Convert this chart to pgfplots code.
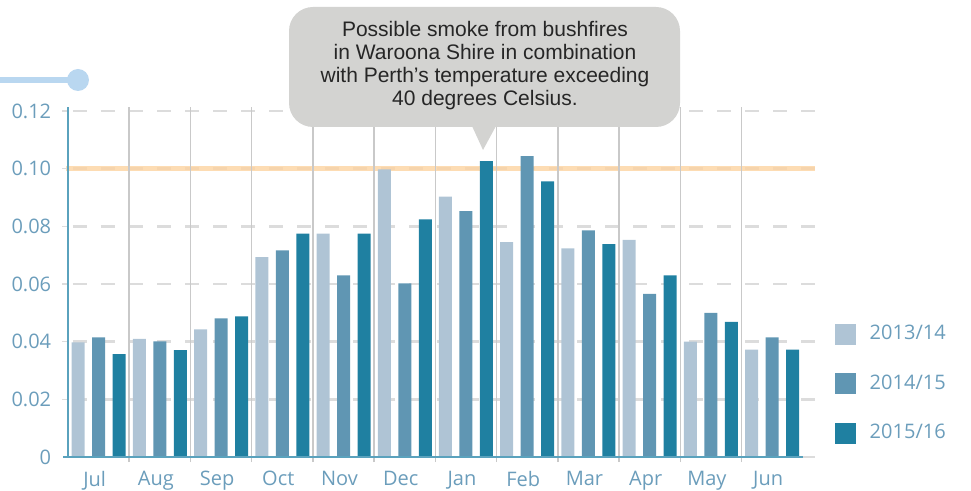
\documentclass[border=0pt]{standalone}
\usepackage{pgfplots}
\pgfplotsset{compat=1.18}
\usepackage{pgfplotstable}
\usepackage{fontspec}
\setmainfont{Open Sans}
\newfontfamily\calloutfont{Liberation Sans}
\definecolor{cA}{HTML}{AFC4D5}
\definecolor{cB}{HTML}{6096B3}
\definecolor{cC}{HTML}{1F80A1}
\definecolor{tickc}{HTML}{6B9DBB}
\definecolor{axc}{HTML}{5AA2BD}
\definecolor{gridc}{HTML}{DCDCDC}
\definecolor{vgrid}{HTML}{C9C9C9}
\definecolor{orangeline}{HTML}{FDD3A0}
\definecolor{deco}{HTML}{B9D7F0}
\definecolor{bubble}{HTML}{D3D3D1}

\pgfplotstableread{
x a b c
0.5 0.0398 0.0415 0.0357
1.5 0.0410 0.0401 0.0371
2.5 0.0443 0.0481 0.0488
3.5 0.0693 0.0717 0.0775
4.5 0.0775 0.0630 0.0775
5.5 0.0998 0.0602 0.0824
6.5 0.0903 0.0853 0.1026
7.5 0.0745 0.1044 0.0956
8.5 0.0724 0.0786 0.0738
9.5 0.0753 0.0566 0.0630
10.5 0.0400 0.0500 0.0469
11.5 0.0372 0.0415 0.0372
}\data

\begin{document}
\fontsize{20}{24}\selectfont
\begin{tikzpicture}
\useasboundingbox (-68pt,-33pt) rectangle (903pt,457pt);
% decoration top-left
\draw[deco, line width=6pt] (-68pt,377pt) -- (10pt,377pt);
\fill[deco] (10pt,377pt) circle (11pt);
\begin{axis}[
  scale only axis,
  width=747pt, height=350.3pt,
  xmin=0, xmax=12.2,
  ymin=0, ymax=0.1215,
  axis x line*=bottom, axis y line*=left,
  axis line style={draw=none},
  ytick={0,0.02,...,0.12},
  yticklabels={0,0.02,0.04,0.06,0.08,0.10,0.12},
  ymajorgrids,
  y grid style={gridc, line width=2.5pt, dash pattern=on 14pt off 14pt, dash phase=-5pt},
  xtick={0.5,1.5,...,11.5},
  xticklabels={Jul,Aug,Sep,Oct,Nov,Dec,Jan,Feb,Mar,Apr,May,Jun},
  major tick length=0pt,
  tick label style={font=\fontsize{20}{24}\selectfont, text=tickc},
  yticklabel style={xshift=-10pt},
  xticklabel style={xshift=-4pt, yshift=-7pt},
  ybar, bar width=13pt,
  legend style={at={(axis cs:12.47,0.047)}, anchor=north west, draw=none, fill=none,
     font=\fontsize{20}{24}\selectfont, text=tickc,
     nodes={inner sep=0pt}, row sep=28.5pt},
  legend cell align=left,
  legend image code/.code={\fill[#1] (0pt,-10.5pt) rectangle (21pt,10.5pt);},
  /tikz/every odd column/.append style={column sep=14pt},
  clip=false,
]
% orange threshold
\draw[orangeline, line width=5pt, opacity=0.8] (axis cs:-0.03,0.1) -- (axis cs:12.2,0.1);
% vertical month separators
\foreach \k in {1,...,11} {
  \edef\tmp{\noexpand\draw[vgrid, line width=1.5pt] (axis cs:\k,0) ++(0,-5pt) -- (axis cs:\k,0.1215);}
  \tmp
}
% y tick marks
\foreach \v in {0.02,0.04,0.06,0.08,0.10,0.12} {
  \edef\tmp{\noexpand\draw[gridc, line width=1.5pt] (axis cs:0,\v) -- ++(-6pt,0);}
  \tmp
}
\addplot[fill=cA, draw=none, bar shift=-20.5pt] table[x=x,y=a]{\data};
\addplot[fill=cB, draw=none, bar shift=0pt] table[x=x,y=b]{\data};
\addplot[fill=cC, draw=none, bar shift=20.5pt] table[x=x,y=c]{\data};
\legend{2013/14,2014/15,2015/16}
% axis lines
\draw[axc, line width=2pt] (axis cs:0,0) -- (axis cs:0,0.1215) ++(0,3pt);
\draw[axc, line width=2.5pt] (axis cs:-0.08,0) -- (axis cs:12,0);
\end{axis}
% callout
\fill[bubble, rounded corners=24pt] (221pt,330pt) rectangle (612pt,450pt);
\fill[bubble] (404pt,331pt) -- (415pt,307pt) -- (428pt,331pt) -- cycle;
\node[align=center, font=\calloutfont\fontsize{21}{23}\selectfont, text=black!85] at (417pt,391pt)
  {Possible smoke from bushfires\\in Waroona Shire in combination\\with Perth’s temperature exceeding\\40 degrees Celsius.};
\end{tikzpicture}
\end{document}
